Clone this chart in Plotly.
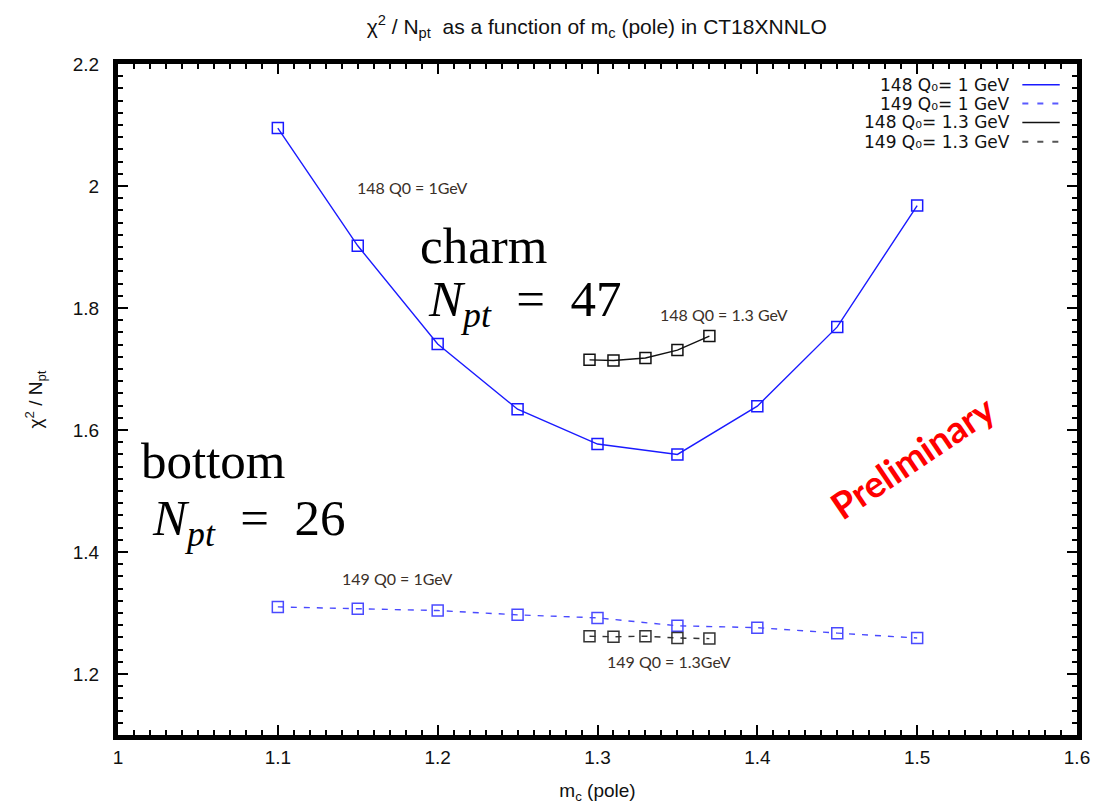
import plotly.graph_objects as go

# ---- data ----
mc = [1.10, 1.15, 1.20, 1.25, 1.30, 1.35, 1.40, 1.45, 1.50]
chi2_148_q1 = [2.095, 1.902, 1.741, 1.634, 1.577, 1.560, 1.639, 1.769, 1.968]
chi2_149_q1 = [1.310, 1.307, 1.304, 1.297, 1.292, 1.279, 1.276, 1.267, 1.259]

mc_q13 = [1.295, 1.31, 1.33, 1.35, 1.37]
chi2_148_q13 = [1.715, 1.714, 1.718, 1.731, 1.754]
chi2_149_q13 = [1.262, 1.261, 1.262, 1.259, 1.258]

legend_labels = [
    "148 Q₀= 1 GeV",
    "149 Q₀= 1 GeV",
    "148 Q₀= 1.3 GeV",
    "149 Q₀= 1.3 GeV",
]
legend_colors = ["#1a1aff", "#5a5aff", "#111111", "#555555"]
legend_dash = ["solid", "dash", "solid", "dash"]

BLUE = "#1a1aff"
BLUE_D = "#4a4aff"
BLACK = "#111111"
GRAY = "#333333"

fig = go.Figure()

def add_series(x, y, color, dash, name):
    fig.add_trace(go.Scatter(
        x=x, y=y, mode="lines+markers", name=name, showlegend=False,
        line=dict(color=color, width=1.4, dash=dash),
        marker=dict(symbol="square-open", size=11, color=color, line=dict(width=1.5, color=color)),
    ))

add_series(mc, chi2_148_q1, BLUE, "solid", legend_labels[0])
add_series(mc, chi2_149_q1, BLUE_D, "6px,7px", legend_labels[1])
add_series(mc_q13, chi2_148_q13, BLACK, "solid", legend_labels[2])
add_series(mc_q13, chi2_149_q13, GRAY, "6px,7px", legend_labels[3])

# custom gnuplot-like legend (text left of line sample)
leg_y = [0.969, 0.941, 0.913, 0.884]
for lab, col, dsh, yy in zip(legend_labels, legend_colors, legend_dash, leg_y):
    fig.add_annotation(xref="paper", yref="paper", x=0.932, y=yy, text=lab,
                       showarrow=False, xanchor="right", yanchor="middle",
                       font=dict(family="DejaVu Sans", size=17, color="#111"))
    fig.add_shape(type="line", xref="paper", yref="paper", x0=0.943, x1=0.982, y0=yy, y1=yy,
                  line=dict(color=col, width=1.5 if dsh == "solid" else 2,
                            dash="solid" if dsh == "solid" else "6px,9px"))

small = dict(family="Lato", size=16, color="#3a3028")
notes = [
    (1.184, 1.998, "148 Q0 = 1GeV"),
    (1.379, 1.789, "148 Q0 = 1.3 GeV"),
    (1.175, 1.356, "149 Q0 = 1GeV"),
    (1.345, 1.220, "149 Q0 = 1.3GeV"),
]
for x, y, t in notes:
    fig.add_annotation(x=x, y=y, text=t, showarrow=False, font=small)

big = dict(family="Liberation Serif", size=51, color="#000")
fig.add_annotation(x=1.188, y=1.902, text="charm", showarrow=False, xanchor="left", font=big)
fig.add_annotation(x=1.193, y=1.808, text="<i>N</i><sub><i>pt</i></sub>  =  47", showarrow=False,
                   xanchor="left", font=big)
fig.add_annotation(x=1.013, y=1.549, text="bottom", showarrow=False, xanchor="left", font=big)
fig.add_annotation(x=1.020, y=1.450, text="<i>N</i><sub><i>pt</i></sub>  =  26", showarrow=False,
                   xanchor="left", font=big)
fig.add_annotation(x=1.497, y=1.557, text="<b>Preliminary</b>", showarrow=False, textangle=-34,
                   font=dict(family="Lato", size=37, color="#ff0000"))

axis_common = dict(
    showline=True, linewidth=5, linecolor="black", mirror="ticks",
    ticks="inside", ticklen=10, tickwidth=2, tickcolor="black",
    showgrid=False, zeroline=False, automargin=False,
    ticklabeloverflow="allow",
    tickfont=dict(family="Liberation Sans", size=19, color="#111"),
)

fig.update_xaxes(
    range=[1.0, 1.6],
    tickvals=[1.0, 1.1, 1.2, 1.3, 1.4, 1.5, 1.6],
    ticktext=["1", "1.1", "1.2", "1.3", "1.4", "1.5", "1.6"],
    minor=dict(dtick=0.01, ticks="inside", ticklen=5, tickwidth=2, tickcolor="black"),
    title=dict(text="m<sub>c</sub> (pole)", font=dict(family="Liberation Sans", size=19, color="#111"), standoff=20),
    ticklabelstandoff=1,
    **axis_common,
)
fig.update_yaxes(
    range=[1.1, 2.2],
    tickvals=[1.2, 1.4, 1.6, 1.8, 2.0, 2.2],
    ticktext=["1.2", "1.4", "1.6", "1.8", "2", "2.2"],
    minor=dict(dtick=0.02, ticks="inside", ticklen=5, tickwidth=2, tickcolor="black"),
    title=dict(text="χ<sup>2</sup> / N<sub>pt</sub>", font=dict(family="Liberation Sans", size=19, color="#111"), standoff=27),
    ticklabelstandoff=10,
    **axis_common,
)

fig.update_layout(
    width=1094, height=804,
    margin=dict(l=118, r=17, t=64, b=69, autoexpand=False),
    paper_bgcolor="white", plot_bgcolor="white",
    title=dict(text="χ<sup>2</sup> / N<sub>pt</sub>  as a function of m<sub>c</sub> (pole) in CT18XNNLO",
               x=0.5455, xanchor="center", y=0.967, yanchor="middle",
               font=dict(family="Liberation Sans", size=21, color="#111")),
    showlegend=False,
)

fig.write_html("out.html", config={"displayModeBar": False},
               post_script="document.body.style.margin='0';document.body.style.overflow='hidden';")
